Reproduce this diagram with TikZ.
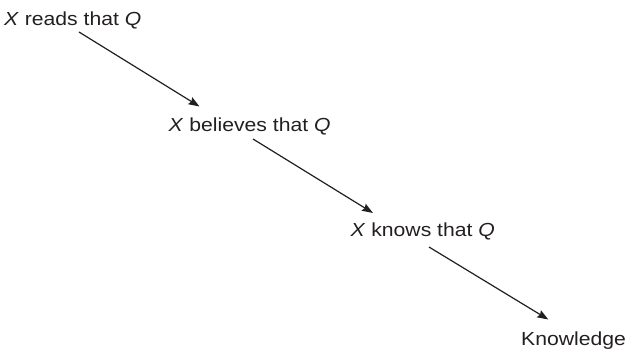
\documentclass[tikz,border=0pt]{standalone}
\usepackage{fontspec}
\setmainfont{Liberation Sans}[FakeStretch=1.12]
\usetikzlibrary{arrows.meta}
\definecolor{ink}{HTML}{231F20}
\begin{document}
\begin{tikzpicture}[x=1pt,y=-1pt,
  lbl/.style={anchor=base west,inner sep=0pt,text=ink,font=\fontsize{18.9pt}{22pt}\selectfont},
  arr/.style={draw=ink,line width=1.2pt,-{Stealth[length=11pt,width=8pt,inset=1.5pt]}}]
\useasboundingbox (0,0) rectangle (627,349);
\node[lbl] (reads) at (4,25.7) {\textit{X} reads that \textit{Q}};
\node[lbl] (believes) at (168.5,131.7) {\textit{X} believes that \textit{Q}};
\node[lbl] (knows) at (350.5,236.5) {\textit{X} knows that \textit{Q}};
\node[lbl] (know) at (521,345.5) {Knowledge};
\coordinate (a1s) at (79,32);
\coordinate (a1e) at (199.5,106.5);
\coordinate (a2s) at (253,139);
\coordinate (a2e) at (373,213);
\coordinate (a3s) at (429,247);
\coordinate (a3e) at (548.3,319.5);
\draw[arr] (a1s) -- (a1e);
\draw[arr] (a2s) -- (a2e);
\draw[arr] (a3s) -- (a3e);
\end{tikzpicture}
\end{document}
